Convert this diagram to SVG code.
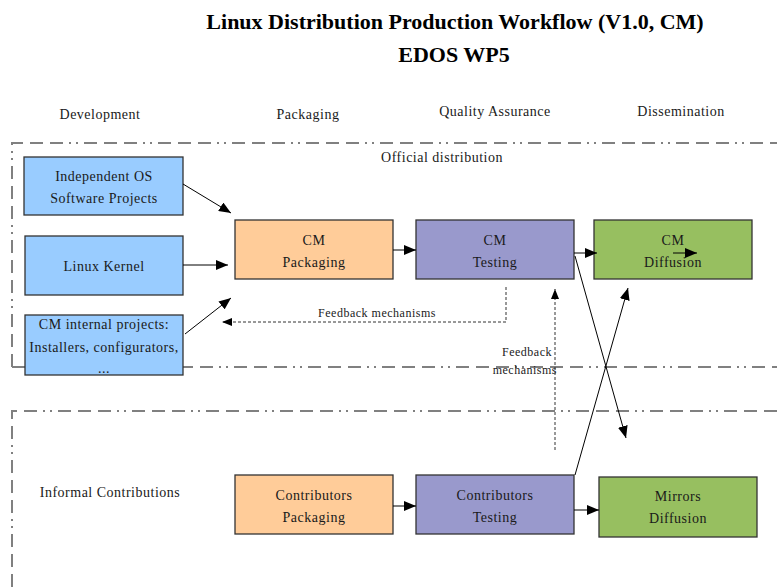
<svg xmlns="http://www.w3.org/2000/svg" width="777" height="587" viewBox="0 0 777 587" font-family="'Liberation Serif','Times New Roman',serif">
<style>
text{font-family:"Liberation Serif","Times New Roman",serif;fill:#1a1a1a;text-anchor:middle}
.t{font-size:14px;letter-spacing:0.5px}
.s{font-size:12px;letter-spacing:0.5px}
.title{font-size:22px;font-weight:bold;fill:#000}
.box{stroke:#333;stroke-width:1.3}
.blue{fill:#99ccff}
.orange{fill:#ffcc99}
.purple{fill:#9999cc}
.green{fill:#97bf60}
.frame{fill:none;stroke:#808080;stroke-width:2;stroke-dasharray:13 7 13 7 13 6 2 5 2 6}
.con{fill:none;stroke:#000;stroke-width:1}
.dash{fill:none;stroke:#333;stroke-width:1;stroke-dasharray:3 2}
</style>
<defs>
<marker id="ah" viewBox="0 0 12 10" refX="12" refY="5" markerWidth="12" markerHeight="10" markerUnits="userSpaceOnUse" orient="auto">
<path d="M0,0 L12,5 L0,10 Z" fill="#000"/>
</marker>
<marker id="ahs" viewBox="0 0 10 8" refX="10" refY="4" markerWidth="10" markerHeight="8" markerUnits="userSpaceOnUse" orient="auto">
<path d="M0,0 L10,4 L0,8 Z" fill="#000"/>
</marker>
</defs>
<rect width="777" height="587" fill="#fff"/>
<g id="title">
<text class="title" x="455" y="29">Linux Distribution Production Workflow (V1.0, CM)</text>
<text class="title" x="454" y="62">EDOS WP5</text>
</g>
<g id="headers">
<text class="t" x="100" y="119">Development</text>
<text class="t" x="308" y="119">Packaging</text>
<text class="t" x="495" y="116">Quality Assurance</text>
<text class="t" x="681" y="116">Dissemination</text>
</g>
<g id="frames">
<path class="frame" d="M12,367 L12,143 L777,143"/>
<path class="frame" d="M12,367 L777,367"/>
<path class="frame" d="M12,587 L12,411 L777,411"/>
<text class="t" x="442" y="162">Official distribution</text>
<text class="t" x="110" y="497">Informal Contributions</text>
</g>
<g id="n-indep">
<rect class="box blue" x="24" y="157" width="159" height="58"/>
<text class="t" x="104" y="181">Independent OS</text>
<text class="t" x="104" y="203">Software Projects</text>
</g>
<g id="n-kernel">
<rect class="box blue" x="25" y="236" width="158" height="59"/>
<text class="t" x="104" y="271">Linux Kernel</text>
</g>
<g id="n-internal">
<rect class="box blue" x="25" y="315" width="158" height="60"/>
<text class="t" x="104" y="329">CM internal projects:</text>
<text class="t" x="104" y="352">Installers, configurators,</text>
<text class="t" x="104" y="373">...</text>
</g>
<g id="n-cmpack">
<rect class="box orange" x="235" y="220" width="158" height="59"/>
<text class="t" x="314" y="245">CM</text>
<text class="t" x="314" y="267">Packaging</text>
</g>
<g id="n-cmtest">
<rect class="box purple" x="416" y="220" width="158" height="59"/>
<text class="t" x="495" y="245">CM</text>
<text class="t" x="495" y="267">Testing</text>
</g>
<g id="n-cmdiff">
<rect class="box green" x="594" y="220" width="158" height="59"/>
<text class="t" x="673" y="245">CM</text>
<text class="t" x="673" y="267">Diffusion</text>
</g>
<g id="n-cpack">
<rect class="box orange" x="235" y="475" width="158" height="59"/>
<text class="t" x="314" y="500">Contributors</text>
<text class="t" x="314" y="522">Packaging</text>
</g>
<g id="n-ctest">
<rect class="box purple" x="416" y="475" width="158" height="59"/>
<text class="t" x="495" y="500">Contributors</text>
<text class="t" x="495" y="522">Testing</text>
</g>
<g id="n-mirrors">
<rect class="box green" x="599" y="477" width="158" height="60"/>
<text class="t" x="678" y="501">Mirrors</text>
<text class="t" x="678" y="523">Diffusion</text>
</g>
<g id="connectors">
<line class="con" x1="183" y1="184" x2="231" y2="213" marker-end="url(#ah)"/>
<line class="con" x1="183" y1="265" x2="228" y2="265" marker-end="url(#ah)"/>
<line class="con" x1="185" y1="334" x2="231" y2="298" marker-end="url(#ah)"/>
<line class="con" x1="393" y1="250" x2="416" y2="250" marker-end="url(#ah)"/>
<line class="con" x1="574" y1="253" x2="597" y2="253" marker-end="url(#ah)"/>
<line class="con" x1="673" y1="253" x2="697" y2="253" marker-end="url(#ah)"/>
<path class="dash" d="M506,287 L506,322 L222,322" marker-end="url(#ahs)"/>
<text class="s" x="377" y="317">Feedback mechanisms</text>
<line class="dash" x1="555" y1="450" x2="555" y2="289" marker-end="url(#ahs)"/>
<text class="s" x="552" y="356" style="text-anchor:end">Feedback</text>
<text class="s" x="557" y="374" style="text-anchor:end">mechanisms</text>
<line class="con" x1="575" y1="256" x2="626" y2="438" marker-end="url(#ah)"/>
<line class="con" x1="575" y1="475" x2="628" y2="288" marker-end="url(#ah)"/>
<line class="con" x1="393" y1="506" x2="416" y2="506" marker-end="url(#ah)"/>
<line class="con" x1="574" y1="510" x2="599" y2="510" marker-end="url(#ah)"/>
</g>
</svg>
